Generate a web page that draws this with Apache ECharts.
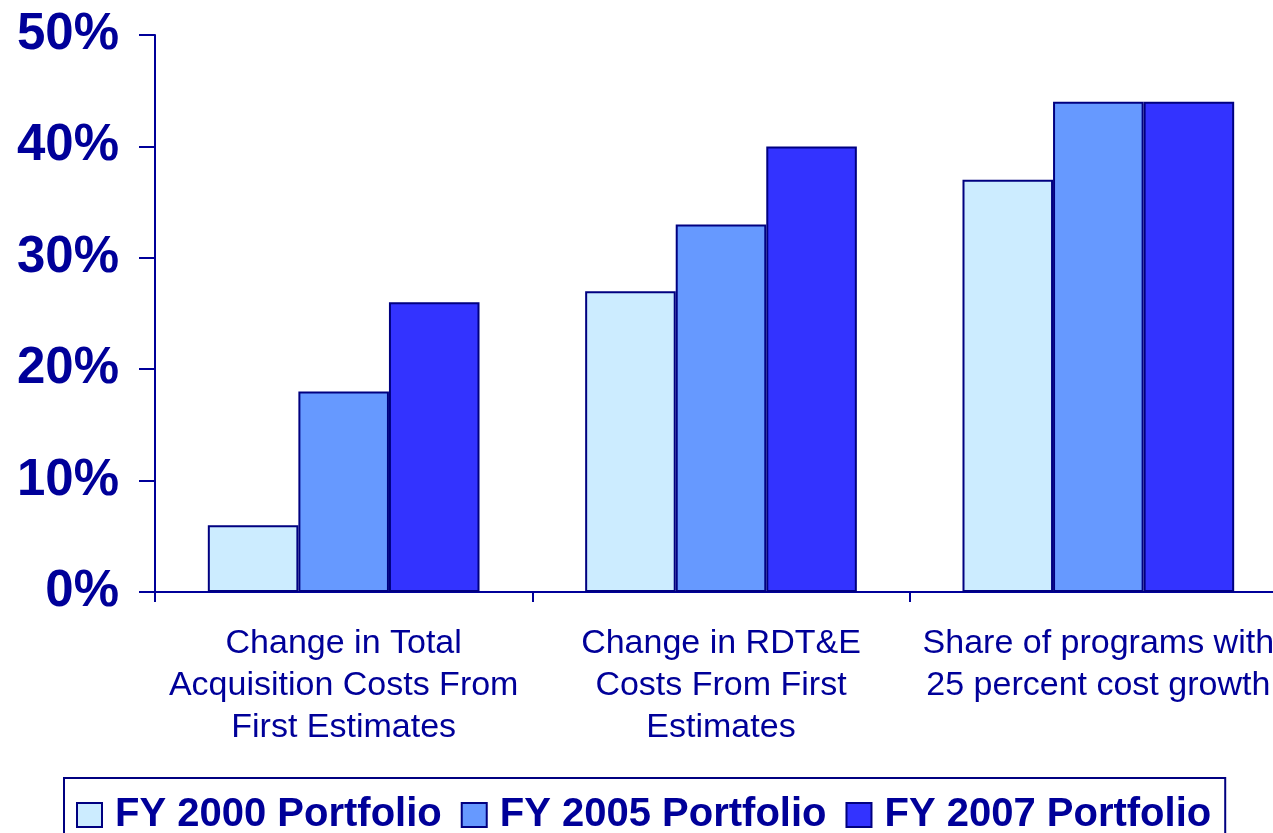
<!DOCTYPE html>
<html>
<head>
<meta charset="utf-8">
<script src="https://cdn.jsdelivr.net/npm/echarts@6/dist/echarts.min.js"></script>
<style>
  html, body { margin: 0; padding: 0; background: #fff; }
  #main { width: 1273px; height: 833px; }
</style>
</head>
<body>
<div id="main"></div>
<script>
var categories = [
    'Change in Total\nAcquisition Costs From\nFirst Estimates',
    'Change in RDT&E\nCosts From First\nEstimates',
    'Share of programs with\n25 percent cost growth'
];
var seriesNames = ['FY 2000 Portfolio', 'FY 2005 Portfolio', 'FY 2007 Portfolio'];
var fy2000 = [6, 27, 37];
var fy2005 = [18, 33, 44];
var fy2007 = [26, 40, 44];
var colors = ['#CCECFF', '#6699FF', '#3333FF'];

var navy = '#000099';
var myChart = echarts.init(document.getElementById('main'));

function makeSeries(name, data, color) {
    return {
        name: name,
        type: 'bar',
        data: data,
        barGap: '0%',
        barCategoryGap: '28%',
        itemStyle: { color: color, borderColor: '#000080', borderWidth: 2 }
    };
}

var option = {
    backgroundColor: '#fff',
    animation: false,
    textStyle: { fontFamily: 'Liberation Sans, Arial, sans-serif' },
    grid: { left: 155, width: 1132, top: 35, height: 557, outerBoundsMode: 'none', containLabel: false },
    legend: {
        left: 64,
        top: 778,
        padding: [17, 14, 12, 12],
        itemWidth: 25,
        itemHeight: 24,
        itemGap: 19,
        icon: 'rect',
        borderColor: '#000080',
        borderWidth: 2,
        data: seriesNames,
        textStyle: { color: navy, fontSize: 40, fontWeight: 'bold', padding: [0, 0, 0, 8] }
    },
    xAxis: {
        type: 'category',
        data: categories,
        axisLine: { lineStyle: { color: '#000099', width: 2 } },
        axisTick: { show: true, length: 10, lineStyle: { color: '#000099', width: 2 } },
        axisLabel: {
            color: navy,
            fontSize: 34,
            lineHeight: 42,
            margin: 31,
            interval: 0,
            overflow: 'none'
        }
    },
    yAxis: {
        type: 'value',
        min: 0,
        max: 50,
        interval: 10,
        splitLine: { show: false },
        axisLine: { show: true, lineStyle: { color: '#000099', width: 2 } },
        axisTick: { show: true, length: 16, lineStyle: { color: '#000099', width: 2 } },
        axisLabel: {
            color: navy,
            fontSize: 51,
            fontWeight: 'bold',
            margin: 36,
            formatter: '{value}%'
        }
    },
    series: [
        makeSeries(seriesNames[0], fy2000, colors[0]),
        makeSeries(seriesNames[1], fy2005, colors[1]),
        makeSeries(seriesNames[2], fy2007, colors[2])
    ]
};
myChart.setOption(option);
</script>
</body>
</html>
